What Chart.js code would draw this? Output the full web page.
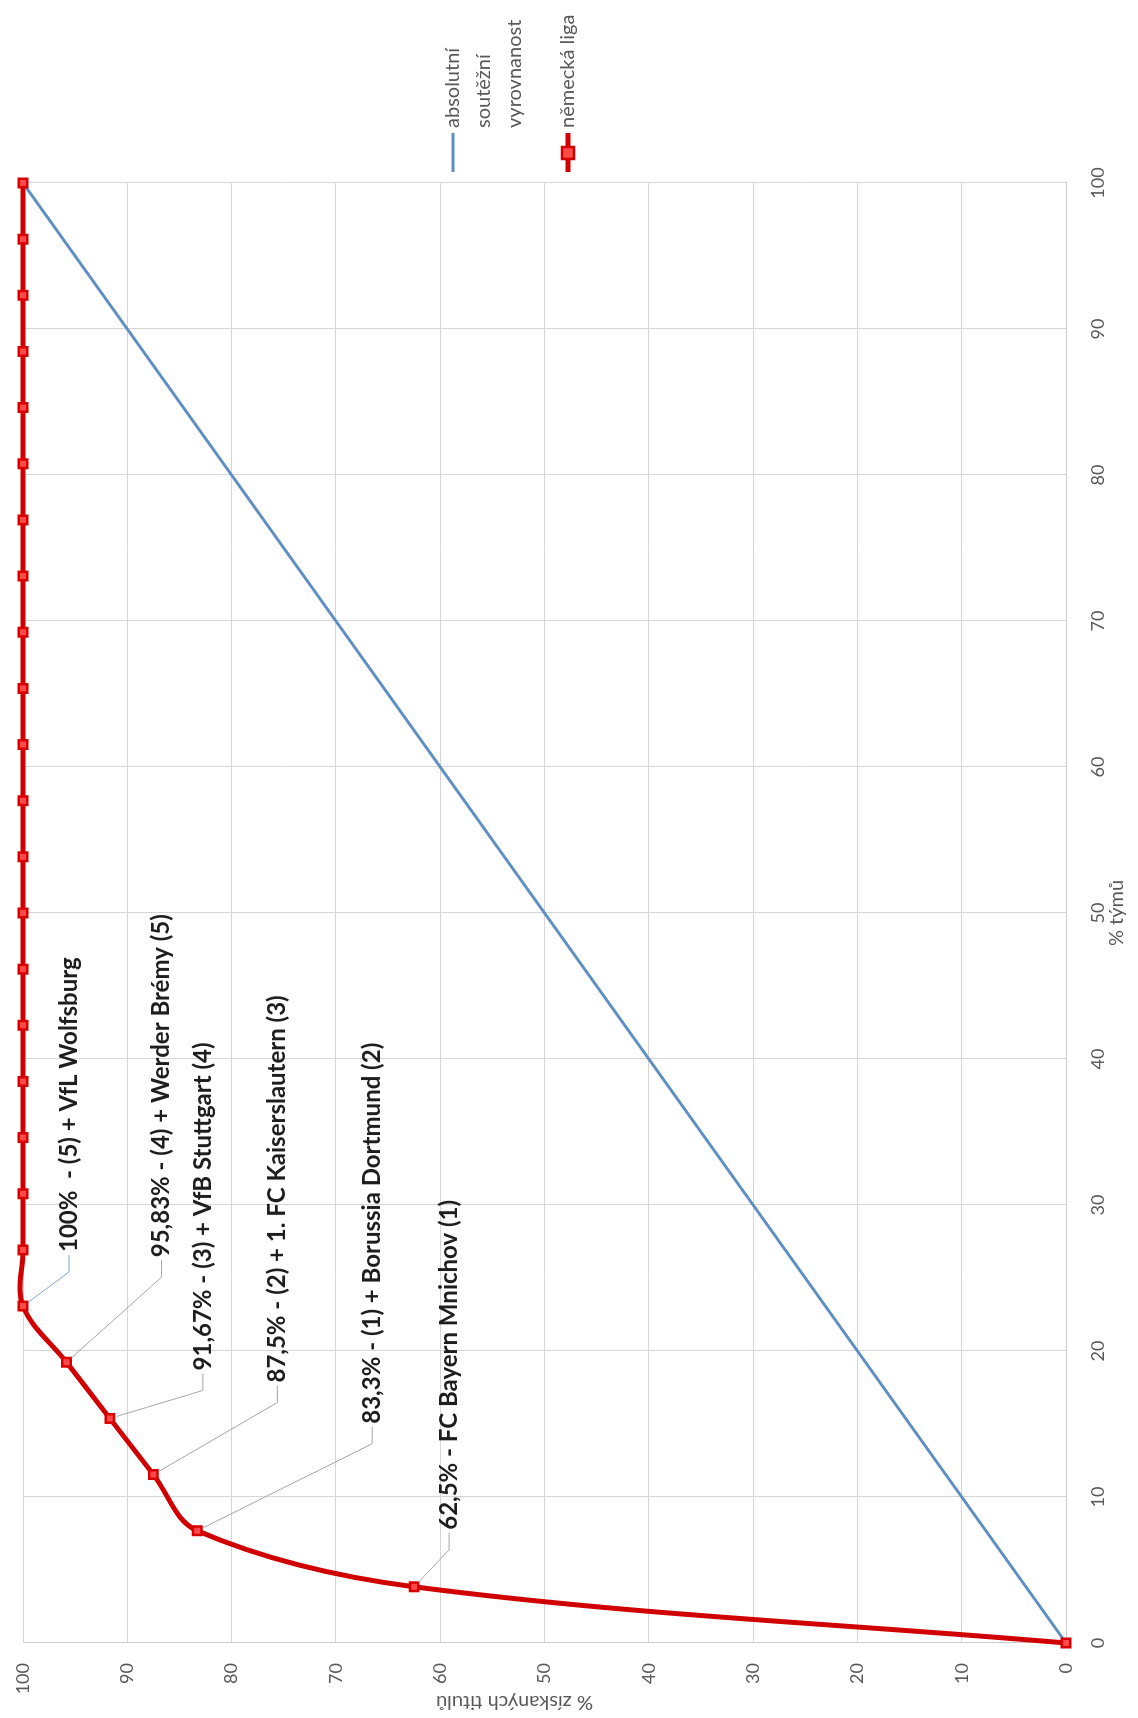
<!DOCTYPE html>
<html>
<head>
<meta charset="utf-8">
<script src="https://cdn.jsdelivr.net/npm/chart.js@4.4.1/dist/chart.umd.min.js"></script>
<style>
  body { margin: 0; background: #fff; overflow: hidden; }
  /* the chart is drawn landscape and turned a quarter left, like the scan */
  #wrap {
    position: absolute; left: 0; top: 0;
    width: 1718px; height: 1138px;
    transform-origin: 0 0;
    transform: translateY(1718px) rotate(-90deg);
  }
</style>
</head>
<body>
<div id="wrap"><canvas id="chart" width="1718" height="1138"></canvas></div>
<script>
// % of teams (26 clubs, one step each)
const teamShare = [0, 3.85, 7.69, 11.54, 15.38, 19.23, 23.08, 26.92, 30.77, 34.62, 38.46, 42.31, 46.15, 50,
  53.85, 57.69, 61.54, 65.38, 69.23, 73.08, 76.92, 80.77, 84.62, 88.46, 92.31, 96.15, 100];
// cumulative % of titles won, German league
const germanLeague = [0, 62.5, 83.3, 87.5, 91.67, 95.83, 100, 100, 100, 100, 100, 100, 100, 100,
  100, 100, 100, 100, 100, 100, 100, 100, 100, 100, 100, 100, 100];
// absolute competitive balance
const equalityX = [0, 100];
const equalityY = [0, 100];

const axisTicks = [0, 10, 20, 30, 40, 50, 60, 70, 80, 90, 100];

const seriesNames = [["absolutní", "soutěžní", "vyrovnanost"], ["německá liga"]];
const xTitle = "% týmů";
const yTitle = "% získaných titulů";

const noteIndex = [1, 2, 3, 4, 5, 6];
const noteTexts = [
  "62,5% - FC Bayern Mnichov (1)",
  "83,3% - (1) + Borussia Dortmund (2)",
  "87,5% - (2) + 1. FC Kaiserslautern (3)",
  "91,67% - (3) + VfB Stuttgart (4)",
  "95,83% - (4) + Werder Brémy (5)",
  "100%  - (5) + VfL Wolfsburg"
];
// where each note sits, in px from its point
const noteOffsets = [[57, 35], [107, 175], [92, 124], [48, 93], [105, 95], [54, 46]];

const RED = "#d00000";
const BLUE = "#5f8fc0";
const GRID = "#d6d6d6";
const TXT = "#595959";

const notes = {
  id: "notes",
  afterDatasetsDraw(chart) {
    let ctx = chart.ctx;
    let meta = chart.getDatasetMeta(0);
    ctx.save();
    ctx.font = "bold 24px Lato";
    ctx.textBaseline = "middle";
    ctx.textAlign = "left";
    for (let i = 0; i < noteIndex.length; i++) {
      let p = meta.data[noteIndex[i]];
      let tx = p.x + noteOffsets[i][0];
      let ty = p.y + noteOffsets[i][1];
      let ex = tx - 20;
      let dx = ex - p.x, dy = ty - p.y;
      let d = Math.hypot(dx, dy);
      ctx.strokeStyle = i == 5 ? "#7fa6cb" : "#a6a6a6";
      ctx.lineWidth = 1;
      ctx.beginPath();
      ctx.moveTo(p.x + dx / d * 7, p.y + dy / d * 7);
      ctx.lineTo(ex, ty);
      ctx.lineTo(tx - 3, ty);
      ctx.stroke();
      ctx.fillStyle = "#1e1e1e";
      ctx.fillText(noteTexts[i], tx, ty);
    }
    ctx.restore();
  },
  afterDraw(chart) {
    let ctx = chart.ctx;
    let xs = chart.scales.x, ys = chart.scales.y;
    ctx.save();
    ctx.fillStyle = TXT;
    ctx.font = "20px Lato";
    ctx.textAlign = "center";
    ctx.textBaseline = "middle";
    ctx.fillText(xTitle, xs.getPixelForValue(50), 1117);
    ctx.translate(16, ys.getPixelForValue(50) - 30);
    ctx.rotate(-Math.PI / 2);
    ctx.fillText(yTitle, 0, 0);
    ctx.restore();

    // legend
    ctx.save();
    ctx.font = "20px Lato";
    ctx.fillStyle = TXT;
    ctx.textAlign = "left";
    ctx.textBaseline = "middle";
    ctx.lineWidth = 3;
    ctx.strokeStyle = BLUE;
    ctx.beginPath();
    ctx.moveTo(1546, 453);
    ctx.lineTo(1585, 453);
    ctx.stroke();
    seriesNames[0].forEach((t, i) => ctx.fillText(t, 1590, 453 + i * 31));
    ctx.strokeStyle = RED;
    ctx.lineWidth = 5;
    ctx.beginPath();
    ctx.moveTo(1546, 568);
    ctx.lineTo(1585, 568);
    ctx.stroke();
    ctx.fillStyle = "#ff4a4a";
    ctx.lineWidth = 2.5;
    ctx.fillRect(1559, 562, 12, 12);
    ctx.strokeRect(1559, 562, 12, 12);
    ctx.fillStyle = TXT;
    ctx.fillText(seriesNames[1][0], 1590, 568);
    ctx.restore();
  }
};

const redData = teamShare.map((x, i) => ({ x: x, y: germanLeague[i] }));
const blueData = equalityX.map((x, i) => ({ x: x, y: equalityY[i] }));

new Chart(document.getElementById("chart"), {
  type: "line",
  data: {
    datasets: [
      {
        label: "německá liga",
        data: redData,
        borderColor: RED,
        borderWidth: 5,
        tension: 0.35,
        pointStyle: "rect",
        pointRadius: 6,
        pointBorderWidth: 2.5,
        pointBorderColor: "#d80000",
        pointBackgroundColor: "#ff4a4a",
        clip: false
      },
      {
        label: "absolutní soutěžní vyrovnanost",
        data: blueData,
        borderColor: BLUE,
        borderWidth: 3,
        pointRadius: 0,
        tension: 0
      }
    ]
  },
  options: {
    responsive: false,
    animation: false,
    devicePixelRatio: 1,
    layout: { padding: { left: 0, top: 23, right: 183, bottom: 0 } },
    elements: { line: { capBezierPoints: false } },
    plugins: { legend: { display: false }, tooltip: { enabled: false } },
    scales: {
      x: {
        type: "linear",
        min: 0,
        max: 100,
        afterBuildTicks: s => { s.ticks = axisTicks.map(v => ({ value: v })); },
        afterFit: s => { s.height = 72; s.paddingLeft = 0; s.paddingRight = 0; },
        grid: { color: GRID, drawTicks: false },
        border: { color: "#cccccc" },
        ticks: { color: TXT, font: { family: "Lato", size: 18 }, padding: 21, maxRotation: 0 }
      },
      y: {
        min: 0,
        max: 100,
        afterBuildTicks: s => { s.ticks = axisTicks.map(v => ({ value: v })); },
        afterFit: s => { s.width = 75; s.paddingTop = 0; s.paddingBottom = 0; },
        grid: { color: GRID, drawTicks: false },
        border: { color: "#cccccc" },
        ticks: { color: TXT, font: { family: "Lato", size: 18 }, padding: 20 }
      }
    }
  },
  plugins: [notes]
});
</script>
</body>
</html>
